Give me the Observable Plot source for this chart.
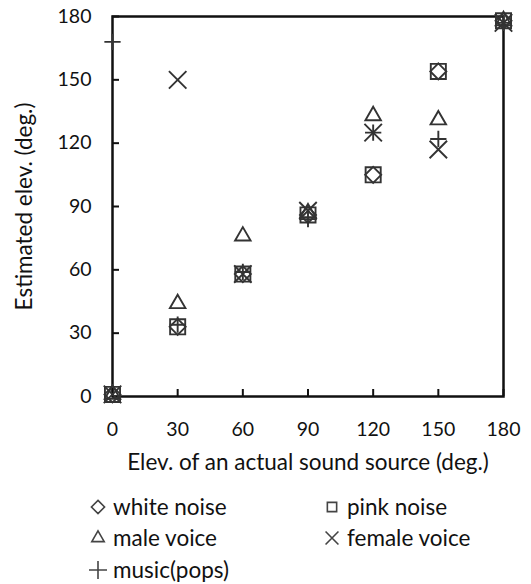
<!DOCTYPE html>
<html><head><meta charset="utf-8">
<script src="https://cdn.jsdelivr.net/npm/d3@7"></script>
<script src="https://cdn.jsdelivr.net/npm/@observablehq/plot@0.6"></script>
<style>
body{margin:0;background:#fff;font-family:Lato,"Open Sans",sans-serif;}
#legend{display:grid;grid-template-columns:234px 200px;margin-left:89px;margin-top:13px;font-size:22.5px;line-height:1;color:#111;}
#legend div{display:flex;align-items:center;height:31.5px;}
#legend svg{margin-right:6px;}
</style></head>
<body>
<div id="chart"></div>
<div id="legend"></div>
<script>
const sources = [0, 30, 60, 90, 120, 150, 180];
const seriesNames = ["white noise", "pink noise", "male voice", "female voice", "music(pops)"];
const whiteNoise = [1, 33, 58, 86, 105, 154, 178];
const pinkNoise = [1, 33, 58, 86, 105, 154, 178];
const maleVoice = [1, 44, 76, 87, 133, 131, 178];
const femaleVoice = [1, 150, 58, 88, 125, 117, 177];
const musicPops = [168, 34, 59, 84, 125, 122, 177];
const ticks = [0, 30, 60, 90, 120, 150, 180];

const symbols = ["diamond2", "square2", "triangle2", "times", "plus"];
const symbolRadius = [7.2, 9.6, 7.4, 8, 5.3];
const d3symbols = [d3.symbolDiamond2, d3.symbolSquare2, d3.symbolTriangle2, d3.symbolTimes, d3.symbolPlus];
const allSeries = [whiteNoise, pinkNoise, maleVoice, femaleVoice, musicPops];

const data = [];
allSeries.forEach((vals, i) => vals.forEach((v, j) => data.push({series: seriesNames[i], x: sources[j], y: v, r: symbolRadius[i]})));

const W = 531, H = 478, ML = 112, MR = 28, MT = 16, MB = 82, TICK = 7;

const chart = Plot.plot({
  width: W, height: H,
  marginLeft: ML, marginRight: MR, marginTop: MT, marginBottom: MB,
  style: {fontFamily: "Lato, 'Open Sans', sans-serif", fontSize: "19.5px", color: "#111", overflow: "visible"},
  x: {domain: [0, 180]},
  y: {domain: [0, 180]},
  r: {type: "identity"},
  symbol: {domain: seriesNames, range: symbols},
  marks: [
    Plot.ruleX(ticks, {x: d => d, insetTop: H - MT - MB - TICK, stroke: "#111", strokeWidth: 2}),
    Plot.ruleY(ticks, {y: d => d, insetRight: W - ML - MR - TICK, stroke: "#111", strokeWidth: 2}),
    Plot.axisX({ticks, tickSize: 0, tickPadding: 26, label: null, fontSize: 19.5}),
    Plot.axisY({ticks, tickSize: 0, tickPadding: 21, label: null, fontSize: 19.5}),
    Plot.axisX({ticks: [], tickSize: 0, label: "Elev. of an actual sound source (deg.)", labelAnchor: "center", labelOffset: 73, labelArrow: "none", fontSize: 22.5}),
    Plot.axisY({ticks: [], tickSize: 0, label: "Estimated elev. (deg.)", labelAnchor: "center", labelOffset: 96, labelArrow: "none", fontSize: 22.5}),
    Plot.frame({stroke: "#111", strokeWidth: 2.5}),
    Plot.dot(data, {x: "x", y: "y", symbol: "series", r: "r", stroke: "#333", strokeWidth: 1.9, fill: "none"})
  ]
});
document.getElementById("chart").append(chart);

const leg = document.getElementById("legend");
seriesNames.forEach((name, i) => {
  const div = document.createElement("div");
  const svg = d3.create("svg").attr("width", 18).attr("height", 18).attr("viewBox", "-9 -9 18 18");
  svg.append("path").attr("d", d3.symbol(d3symbols[i], 110)()).attr("fill", "none").attr("stroke", "#444").attr("stroke-width", 1.6);
  div.append(svg.node());
  const span = document.createElement("span");
  span.textContent = name;
  div.append(span);
  leg.append(div);
});
</script>
</body></html>
